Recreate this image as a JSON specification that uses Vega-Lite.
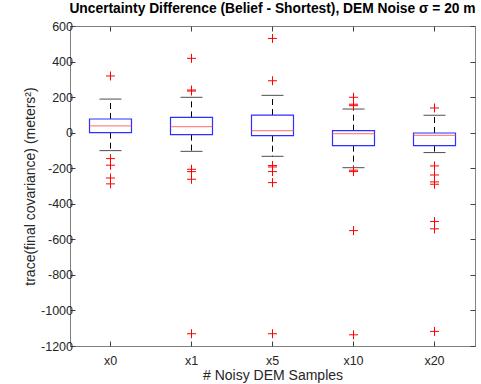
{
  "$schema": "https://vega.github.io/schema/vega-lite/v6.json",
  "width": 405,
  "height": 320,
  "autosize": "none",
  "padding": {"left": 70, "top": 26, "right": 6, "bottom": 38},
  "title": {
    "text": "Uncertainty Difference (Belief - Shortest), DEM Noise σ = 20 m",
    "font": "Liberation Sans",
    "fontSize": 13.8,
    "fontWeight": "bold",
    "color": "#000000",
    "anchor": "middle",
    "offset": 4
  },
  "config": {
    "font": "Liberation Sans",
    "view": {"stroke": "#808080", "strokeWidth": 1},
    "axis": {
      "domain": false,
      "grid": false,
      "tickColor": "#404040",
      "tickSize": -5,
      "labelFont": "Liberation Sans",
      "labelFontSize": 12.5,
      "labelColor": "#262626",
      "titleFont": "Liberation Sans",
      "titleFontSize": 14,
      "titleFontWeight": "normal",
      "titleColor": "#262626"
    }
  },
  "datasets": {
    "boxes": [
      {"samples": "x0", "lower": -101, "q1": 0, "median": 38, "q3": 77, "upper": 189},
      {"samples": "x1", "lower": -105, "q1": -11, "median": 34, "q3": 86, "upper": 199},
      {"samples": "x5", "lower": -133, "q1": -17, "median": 11, "q3": 99, "upper": 210},
      {"samples": "x10", "lower": -197, "q1": -73, "median": -5, "q3": 11, "upper": 133},
      {"samples": "x20", "lower": -112, "q1": -73, "median": -15, "q3": -2, "upper": 98}
    ],
    "outliers": [
      {"samples": "x0", "value": 319},
      {"samples": "x0", "value": -146},
      {"samples": "x0", "value": -183},
      {"samples": "x0", "value": -255},
      {"samples": "x0", "value": -288},
      {"samples": "x1", "value": 418},
      {"samples": "x1", "value": 240},
      {"samples": "x1", "value": 234},
      {"samples": "x1", "value": -206},
      {"samples": "x1", "value": -219},
      {"samples": "x1", "value": -262},
      {"samples": "x1", "value": -1131},
      {"samples": "x5", "value": 530},
      {"samples": "x5", "value": 292},
      {"samples": "x5", "value": -185},
      {"samples": "x5", "value": -193},
      {"samples": "x5", "value": -219},
      {"samples": "x5", "value": -281},
      {"samples": "x5", "value": -1131},
      {"samples": "x10", "value": 199},
      {"samples": "x10", "value": 160},
      {"samples": "x10", "value": 152},
      {"samples": "x10", "value": -211},
      {"samples": "x10", "value": -219},
      {"samples": "x10", "value": -551},
      {"samples": "x10", "value": -1137},
      {"samples": "x20", "value": 139},
      {"samples": "x20", "value": -187},
      {"samples": "x20", "value": -238},
      {"samples": "x20", "value": -277},
      {"samples": "x20", "value": -290},
      {"samples": "x20", "value": -500},
      {"samples": "x20", "value": -541},
      {"samples": "x20", "value": -1118}
    ]
  },
  "resolve": {"axis": {"x": "independent", "y": "independent"}},
  "layer": [
    {
      "data": {"name": "boxes"},
      "mark": {"type": "rule", "color": "#000000", "strokeWidth": 1, "strokeDash": [6, 4]},
      "encoding": {
        "x": {
          "field": "samples",
          "type": "nominal",
          "scale": {"domain": ["x0", "x1", "x5", "x10", "x20"], "paddingInner": 0, "paddingOuter": 0},
          "axis": {"orient": "bottom", "title": "# Noisy DEM Samples", "labelAngle": 0, "labelPadding": 13, "titlePadding": 2}
        },
        "y": {
          "field": "q3",
          "type": "quantitative",
          "scale": {"domain": [-1200, 600], "nice": false, "zero": false},
          "axis": {
            "orient": "left",
            "title": "trace(final covariance) (meters²)",
            "format": "d",
            "labelExpr": "replace(datum.label, '−', '-')",
            "values": [-1200, -1000, -800, -600, -400, -200, 0, 200, 400, 600],
            "labelPadding": 2.5,
            "titlePadding": 3
          }
        },
        "y2": {"field": "upper"}
      }
    },
    {
      "data": {"name": "boxes"},
      "mark": {"type": "rule", "color": "#000000", "strokeWidth": 1, "strokeDash": [6, 4]},
      "encoding": {
        "x": {"field": "samples", "type": "nominal", "axis": null},
        "y": {"field": "q1", "type": "quantitative", "axis": null},
        "y2": {"field": "lower"}
      }
    },
    {
      "data": {"name": "boxes"},
      "mark": {"type": "tick", "color": "#000000", "size": 22, "thickness": 1},
      "encoding": {
        "x": {"field": "samples", "type": "nominal", "axis": null},
        "y": {"field": "upper", "type": "quantitative", "axis": null}
      }
    },
    {
      "data": {"name": "boxes"},
      "mark": {"type": "tick", "color": "#000000", "size": 22, "thickness": 1},
      "encoding": {
        "x": {"field": "samples", "type": "nominal", "axis": null},
        "y": {"field": "lower", "type": "quantitative", "axis": null}
      }
    },
    {
      "data": {"name": "boxes"},
      "mark": {"type": "bar", "size": 42, "fill": "#ffffff", "fillOpacity": 0, "stroke": "#2f2fff", "strokeWidth": 1.2},
      "encoding": {
        "x": {"field": "samples", "type": "nominal", "axis": null},
        "y": {"field": "q3", "type": "quantitative", "axis": null},
        "y2": {"field": "q1"}
      }
    },
    {
      "data": {"name": "boxes"},
      "mark": {"type": "tick", "color": "#ff5555", "size": 42, "thickness": 1.2},
      "encoding": {
        "x": {"field": "samples", "type": "nominal", "axis": null},
        "y": {"field": "median", "type": "quantitative", "axis": null}
      }
    },
    {
      "data": {"name": "outliers"},
      "mark": {
        "type": "point",
        "shape": "M-1,0L1,0M0,-1L0,1",
        "size": 81,
        "filled": false,
        "stroke": "#ff0000",
        "strokeWidth": 1,
        "opacity": 1
      },
      "encoding": {
        "x": {
          "field": "samples",
          "type": "nominal",
          "axis": {"orient": "top", "labels": false, "title": null}
        },
        "y": {
          "field": "value",
          "type": "quantitative",
          "axis": {
            "orient": "right",
            "labels": false,
            "title": null,
            "values": [-1200, -1000, -800, -600, -400, -200, 0, 200, 400, 600]
          }
        }
      }
    }
  ]
}
